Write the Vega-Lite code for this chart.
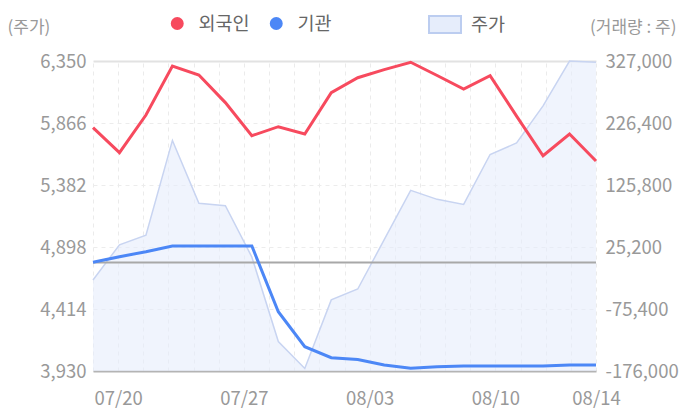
{
  "$schema": "https://vega.github.io/schema/vega-lite/v6.json",
  "width": 503,
  "height": 310,
  "autosize": {"type": "none"},
  "padding": {"left": 93, "top": 61, "right": 90, "bottom": 49},
  "background": "white",
  "config": {
    "view": {"stroke": null},
    "font": "Noto Sans CJK KR"
  },
  "datasets": {
    "axisDates": [
      {"d": "07/17"}, {"d": "07/20"}, {"d": "07/21"}, {"d": "07/22"}, {"d": "07/23"}, {"d": "07/24"},
      {"d": "07/27"}, {"d": "07/28"}, {"d": "07/29"}, {"d": "07/30"}, {"d": "07/31"},
      {"d": "08/03"}, {"d": "08/04"}, {"d": "08/05"}, {"d": "08/06"}, {"d": "08/07"},
      {"d": "08/10"}, {"d": "08/11"}, {"d": "08/12"}, {"d": "08/13"}, {"d": "08/14"}
    ],
    "main": [
      {"date": "07/20", "주가": 4640, "외국인": 218800, "기관": 500},
      {"date": "07/21", "주가": 4915, "외국인": 178200, "기관": 9500},
      {"date": "07/22", "주가": 4990, "외국인": 239400, "기관": 17600},
      {"date": "07/23", "주가": 5730, "외국인": 318900, "기관": 26800},
      {"date": "07/24", "주가": 5240, "외국인": 304300, "기관": 26800},
      {"date": "07/27", "주가": 5220, "외국인": 259500, "기관": 26800},
      {"date": "07/28", "주가": 4820, "외국인": 205800, "기관": 26800},
      {"date": "07/29", "주가": 4160, "외국인": 220400, "기관": -79800},
      {"date": "07/30", "주가": 3950, "외국인": 208500, "기관": -136600},
      {"date": "07/31", "주가": 4485, "외국인": 275600, "기관": -154400},
      {"date": "08/03", "주가": 4570, "외국인": 299900, "기관": -157300},
      {"date": "08/04", "주가": 4955, "외국인": 313000, "기관": -166300},
      {"date": "08/05", "주가": 5340, "외국인": 325000, "기관": -171600},
      {"date": "08/06", "주가": 5270, "외국인": 303500, "기관": -169000},
      {"date": "08/07", "주가": 5230, "외국인": 281600, "기관": -167900},
      {"date": "08/10", "주가": 5620, "외국인": 303100, "기관": -167900},
      {"date": "08/11", "주가": 5710, "외국인": 237500, "기관": -167900},
      {"date": "08/12", "주가": 6000, "외국인": 173300, "기관": -167900},
      {"date": "08/13", "주가": 6350, "외국인": 208500, "기관": -166300},
      {"date": "08/14", "주가": 6340, "외국인": 164700, "기관": -166300}
    ]
  },
  "layer": [
    {
      "data": {"name": "axisDates"},
      "mark": {"type": "rule", "opacity": 0},
      "encoding": {
        "x": {
          "field": "d",
          "type": "ordinal",
          "sort": null,
          "scale": {"type": "point", "padding": 0},
          "axis": {
            "orient": "bottom",
            "title": null,
            "labelAngle": 0,
            "ticks": false,
            "domain": true,
            "domainColor": "#b4b4b4",
            "domainWidth": 2,
            "grid": true,
            "gridColor": "#ebebeb",
            "gridDash": [4, 4],
            "labelExpr": "indexof(['07/20','07/27','08/03','08/10','08/14'], datum.value) >= 0 ? datum.value : ''",
            "labelOverlap": false,
            "labelPadding": 18,
            "labelFontSize": 18.5,
            "labelColor": "#999999"
          }
        }
      }
    },
    {
      "data": {"name": "main"},
      "encoding": {
        "x": {"field": "date", "type": "ordinal", "sort": null, "scale": {"type": "point", "padding": 0}, "axis": null},
        "y": {
          "field": "주가",
          "type": "quantitative",
          "scale": {"domain": [3930, 6350], "nice": false, "zero": false},
          "axis": {
            "orient": "left",
            "values": [3930, 4414, 4898, 5382, 5866, 6350],
            "labelExpr": "format(datum.value, ',')",
            "domain": false,
            "ticks": false,
            "labelPadding": 7,
            "labelFontSize": 18.5,
            "labelColor": "#999999",
            "grid": true,
            "gridColor": {"condition": {"test": "datum.value == 6350", "value": "#e2e2e2"}, "value": "#ececec"},
            "gridDash": {"condition": {"test": "datum.value == 6350", "value": []}, "value": [4, 4]},
            "gridWidth": {"condition": {"test": "datum.value == 6350", "value": 2}, "value": 1},
            "title": "(주가)",
            "titleAngle": 0,
            "titleX": -86,
            "titleY": -34,
            "titleAlign": "left",
            "titleBaseline": "middle",
            "titleFontSize": 17,
            "titleFontWeight": "normal",
            "titleColor": "#999999"
          }
        }
      },
      "layer": [
        {
          "mark": {"type": "area", "fillOpacity": 0.6, "clip": true},
          "encoding": {
            "fill": {
              "datum": "주가",
              "type": "nominal",
              "scale": {"range": ["#e6edfb"]},
              "legend": {
                "orient": "none",
                "legendX": 335,
                "legendY": -53.5,
                "title": null,
                "symbolType": "M-1,-0.53L1,-0.53L1,0.53L-1,0.53Z",
                "symbolSize": 1024,
                "symbolStrokeColor": "#bccdf0",
                "symbolStrokeWidth": 2,
                "symbolOpacity": 1,
                "labelFontSize": 18.5,
                "labelColor": "#666666",
                "labelOffset": 9,
                "padding": 0
              }
            }
          }
        },
        {
          "mark": {"type": "line", "color": "#c8d4f1", "strokeWidth": 1.5}
        }
      ]
    },
    {
      "data": {"values": [{"zero": 0}]},
      "mark": {"type": "rule", "color": "#a8a8a8", "strokeWidth": 2},
      "encoding": {
        "y": {"field": "zero", "type": "quantitative", "scale": {"domain": [-176000, 327000], "nice": false, "zero": false}, "axis": null}
      }
    },
    {
      "data": {"name": "main"},
      "transform": [{"fold": ["외국인", "기관"], "as": ["투자자", "순매수"]}],
      "mark": {"type": "line", "strokeWidth": 3},
      "encoding": {
        "x": {"field": "date", "type": "ordinal", "sort": null, "scale": {"type": "point", "padding": 0}, "axis": null},
        "y": {
          "field": "순매수",
          "type": "quantitative",
          "scale": {"domain": [-176000, 327000], "nice": false, "zero": false},
          "axis": {
            "orient": "right",
            "values": [-176000, -75400, 25200, 125800, 226400, 327000],
            "labelExpr": "(datum.value < 0 ? '-' : '') + format(abs(datum.value), ',')",
            "domain": false,
            "ticks": false,
            "grid": false,
            "labelPadding": 9,
            "labelFontSize": 18.5,
            "labelColor": "#999999",
            "title": "(거래량 : 주)",
            "titleAngle": 0,
            "titleX": 80,
            "titleY": -34,
            "titleAlign": "right",
            "titleBaseline": "middle",
            "titleFontSize": 17,
            "titleFontWeight": "normal",
            "titleColor": "#999999"
          }
        },
        "color": {
          "field": "투자자",
          "type": "nominal",
          "scale": {"domain": ["외국인", "기관"], "range": ["#f74a5e", "#4c87f6"]},
          "legend": {
            "orient": "none",
            "legendX": 75,
            "legendY": -47,
            "direction": "horizontal",
            "title": null,
            "symbolType": "circle",
            "symbolSize": 42,
            "symbolStrokeWidth": 6.5,
            "labelFontSize": 18.5,
            "labelColor": "#666666",
            "labelOffset": 12,
            "columnPadding": 10,
            "padding": 0
          }
        }
      }
    }
  ],
  "resolve": {"scale": {"x": "independent", "y": "independent"}}
}
